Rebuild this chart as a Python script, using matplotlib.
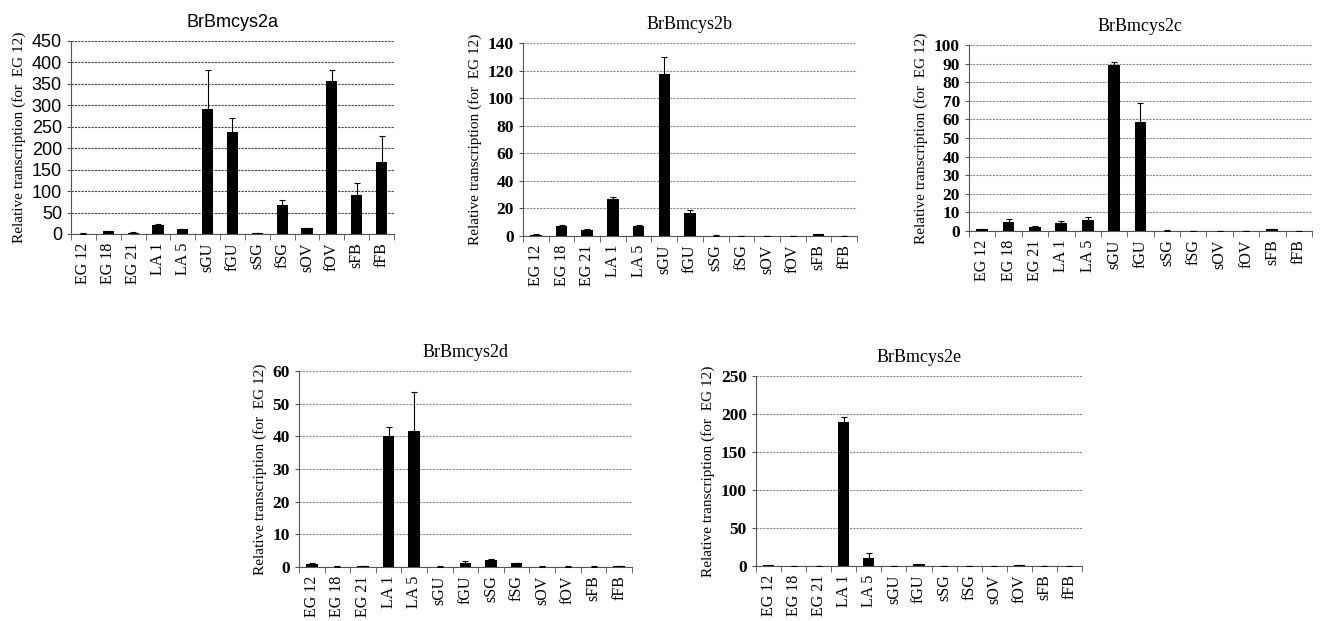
"""Relative transcription of BrBmcys2a-e across stages/tissues."""
import numpy as np
import matplotlib.pyplot as plt

tissues = ["EG 12", "EG 18", "EG 21", "LA 1", "LA 5", "sGU", "fGU",
           "sSG", "fSG", "sOV", "fOV", "sFB", "fFB"]

vals_a = [1, 6, 3, 22, 11, 292, 238, 2, 67, 13, 357, 92, 168]
err_a = [0.5, 1, 0.5, 2, 1, 91, 32, 0.5, 12, 1, 26, 28, 61]
vals_b = [1, 7.5, 4.3, 27, 7.5, 117.5, 17, 0.3, 0.2, 0.2, 0.2, 1.3, 0.2]
err_b = [0.2, 0.5, 0.8, 1, 0.5, 12, 1.5, 0.1, 0.1, 0.1, 0.1, 0.2, 0.1]
vals_c = [1, 5, 2.3, 4.5, 6, 89, 58.5, 0.2, 0.1, 0.1, 0.1, 1, 0.1]
err_c = [0.2, 1.5, 0.5, 1, 1.5, 2, 10.5, 0.1, 0.05, 0.05, 0.05, 0.2, 0.05]
vals_d = [1, 0.1, 0.3, 40, 41.5, 0.1, 1.2, 2, 1.2, 0.1, 0.1, 0.1, 0.3]
err_d = [0.1, 0.05, 0.1, 3, 12, 0.05, 0.5, 0.3, 0.1, 0.05, 0.05, 0.05, 0.1]
vals_e = [1, 0.3, 0.3, 189, 11, 0.5, 2.5, 0.3, 0.3, 0.3, 0.8, 0.3, 0.3]
err_e = [0.2, 0.1, 0.1, 7, 6, 0.1, 0.5, 0.1, 0.1, 0.1, 0.2, 0.1, 0.1]

SERIF = ["Liberation Serif", "DejaVu Serif"]
SANS = ["Liberation Sans", "DejaVu Sans"]


def panel(fig, rect, title, vals, err, ymax, step, tick_font, title_font, grid_color):
    ax = fig.add_axes(rect)
    x = np.arange(len(tissues))
    ax.bar(x, vals, 0.45, color="black", zorder=3)
    ax.errorbar(x, vals, yerr=[np.zeros(len(err)), err], fmt="none",
                ecolor="black", elinewidth=0.8, capsize=2, capthick=0.8, zorder=4)
    ax.set_xlim(-0.5, len(tissues) - 0.5)
    ax.set_ylim(0, ymax)
    ax.set_yticks(np.arange(0, ymax + step / 2, step))
    ax.yaxis.grid(True, color=grid_color, linestyle=(0, (2, 1)), linewidth=0.8, zorder=0)
    for s in ["top", "right"]:
        ax.spines[s].set_visible(False)
    ax.spines["left"].set_color("#555555")
    ax.spines["bottom"].set_color("#555555")
    ax.set_xticks(x)
    ax.set_xticklabels(tissues, rotation=90, family=SERIF, fontsize=11.5)
    ax.set_xticks(np.arange(-0.5, len(tissues)), minor=True)
    ax.tick_params(axis="x", which="major", length=0, pad=6)
    ax.tick_params(axis="x", which="minor", length=4, color="#555555")
    ax.tick_params(axis="y", length=3, color="#555555")
    for lab in ax.get_yticklabels():
        lab.set_family(tick_font)
        if tick_font == SERIF:
            lab.set_fontweight("bold")
            lab.set_fontsize(12.5)
        else:
            lab.set_fontsize(13)
    ax.set_ylabel("Relative transcription (for  EG 12)", family=SERIF, fontsize=11)
    ax.set_title(title, family=title_font, fontsize=13, pad=10)
    return ax


fig = plt.figure(figsize=(13.27, 6.21), dpi=100)
panel(fig, [0.0535, 0.6232, 0.2434, 0.3108], "BrBmcys2a", vals_a, err_a, 450, 50,
      SANS, SANS, "#444444")
panel(fig, [0.3941, 0.6200, 0.2517, 0.3108], "BrBmcys2b", vals_b, err_b, 140, 20,
      SERIF, SERIF, "#888888")
panel(fig, [0.7302, 0.6280, 0.2585, 0.2995], "BrBmcys2c", vals_c, err_c, 100, 10,
      SERIF, SERIF, "#888888")
panel(fig, [0.2253, 0.0870, 0.2509, 0.3156], "BrBmcys2d", vals_d, err_d, 60, 10,
      SERIF, SERIF, "#888888")
panel(fig, [0.5697, 0.0886, 0.2457, 0.3060], "BrBmcys2e", vals_e, err_e, 250, 50,
      SERIF, SERIF, "#888888")

plt.savefig("out.png", dpi=100)
